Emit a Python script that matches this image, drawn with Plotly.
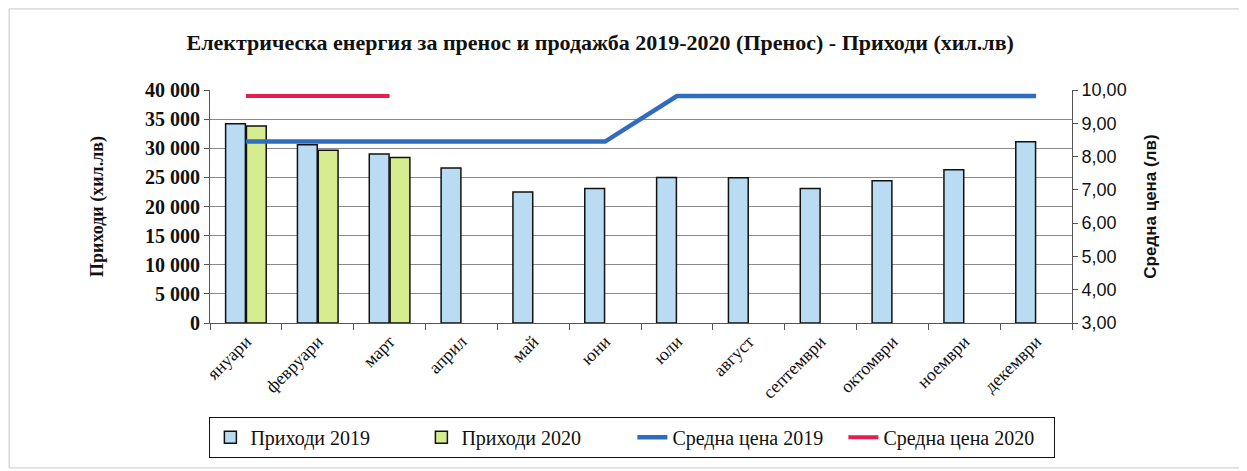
import plotly.graph_objects as go

# Данни
months = ["януари", "февруари", "март", "април", "май", "юни",
          "юли", "август", "септември", "октомври", "ноември", "декември"]
income_2019 = [34200, 30600, 29000, 26600, 22500, 23100,
               25000, 24950, 23100, 24400, 26300, 31100]
income_2020 = [33800, 29650, 28400, None, None, None,
               None, None, None, None, None, None]
price_2019 = [8.45, 8.45, 8.45, 8.45, 8.45, 8.45,
              9.82, 9.82, 9.82, 9.82, 9.82, 9.82]
price_2020 = [9.82, 9.82, 9.82]

SERIF = "Liberation Serif"
SANS = "Liberation Sans"

fig = go.Figure()
fig.add_trace(go.Bar(
    x=months, y=income_2019, name="Приходи 2019",
    marker=dict(color="#b9dcf3", line=dict(color="#111", width=1.5)),
))
fig.add_trace(go.Bar(
    x=months, y=income_2020, name="Приходи 2020",
    marker=dict(color="#d6ec8e", line=dict(color="#111", width=1.5)),
))
fig.add_trace(go.Scatter(
    x=months, y=price_2019, name="Средна цена 2019", yaxis="y2",
    mode="lines", line=dict(color="#2f6cc0", width=4.5),
))
fig.add_trace(go.Scatter(
    x=months[:3], y=price_2020, name="Средна цена 2020", yaxis="y2",
    mode="lines", line=dict(color="#e3204d", width=4),
))

# страницата има 8px отстъп, затова фигурата е малко по-малка
fig.update_layout(
    width=1239, height=463,
    margin=dict(l=202, r=175, t=82, b=148),
    paper_bgcolor="white", plot_bgcolor="white",
    separators=", ",
    font=dict(family=SERIF, color="#111", size=17),
    title=dict(
        text="<b>Електрическа енергия за пренос и продажба 2019-2020 (Пренос) - Приходи (хил.лв)</b>",
        x=0.478, xanchor="center", y=0.925, yanchor="middle",
        font=dict(family=SERIF, size=22, color="#111"),
        automargin=False,
    ),
    barmode="group", bargap=0.42, bargroupgap=0.05,
    xaxis=dict(
        type="category", tickangle=-45, tickson="boundaries",
        ticks="outside", ticklen=6, tickcolor="#555",
        showline=True, linecolor="#555", linewidth=1,
        showgrid=False, tickfont=dict(family=SERIF, size=18),
        automargin=False,
    ),
    yaxis=dict(
        range=[0, 40000], dtick=5000, tickformat=",d",
        showgrid=True, gridcolor="#8a8a8a", gridwidth=1,
        showline=True, linecolor="#555", linewidth=1,
        ticks="outside", ticklen=5, tickcolor="#555",
        zeroline=False, automargin=False,
        tickfont=dict(family=SERIF, size=20, weight="bold"),
        title=dict(text="<b>Приходи (хил.лв)</b>", standoff=36,
                   font=dict(family=SERIF, size=18)),
    ),
    yaxis2=dict(
        overlaying="y", side="right", range=[3, 10], dtick=1,
        tickformat=".2f", showgrid=False,
        showline=True, linecolor="#555", linewidth=1,
        ticks="outside", ticklen=5, tickcolor="#555",
        zeroline=False, automargin=False,
        tickfont=dict(family=SANS, size=18),
        title=dict(text="<b>Средна цена (лв)</b>", standoff=18,
                   font=dict(family=SANS, size=17)),
    ),
    legend=dict(
        orientation="h", x=0.49, xanchor="center", y=-0.49, yanchor="middle",
        bordercolor="#111", borderwidth=1, bgcolor="white",
        font=dict(family=SERIF, size=20), entrywidth=166,
        traceorder="normal",
    ),
    shapes=[dict(
        type="rect", xref="paper", yref="paper",
        x0=-0.233, x1=1.195, y0=-0.622, y1=1.348,
        line=dict(color="#c8c8c8", width=1),
    )],
)

fig.write_html("out.html")
